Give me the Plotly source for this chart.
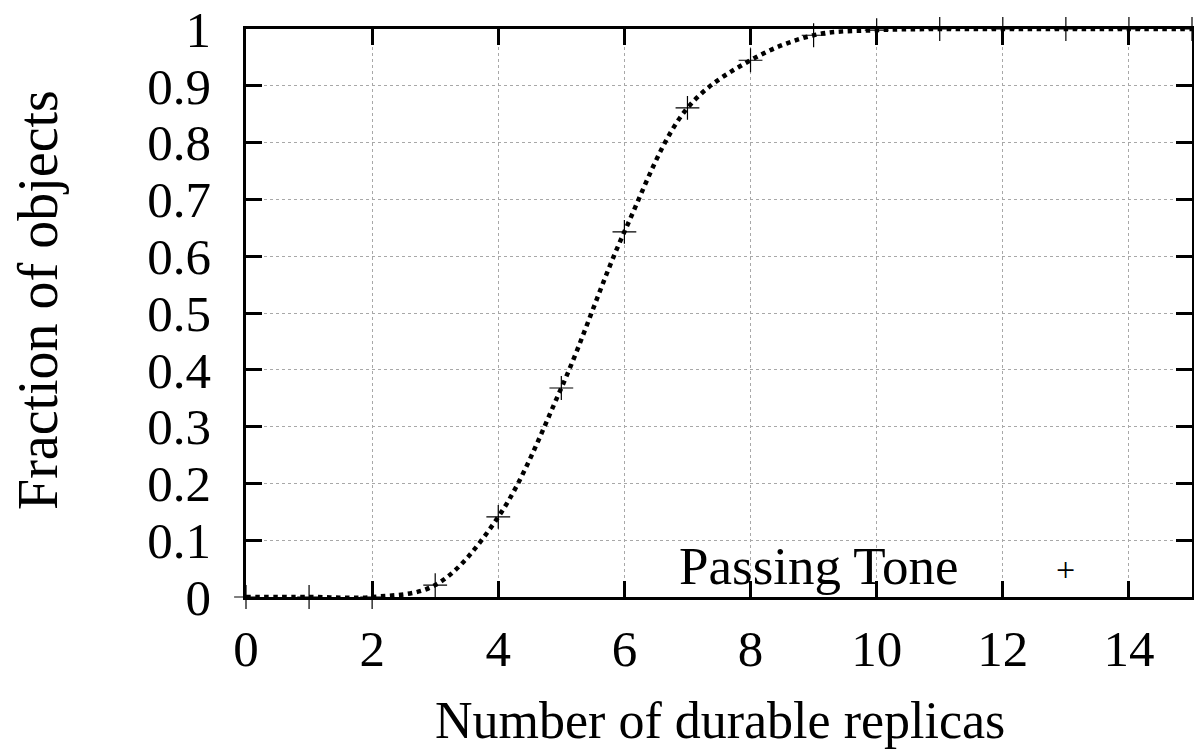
import plotly.graph_objects as go

replicas = [0, 1, 2, 3, 4, 5, 6, 7, 8, 9, 10, 11, 12, 13, 14, 15]
fraction = [0, 0, 0, 0.021, 0.141, 0.368, 0.643, 0.861, 0.945, 0.989, 0.998, 1, 1, 1, 1, 1]
x_ticks = [0, 2, 4, 6, 8, 10, 12, 14]
y_ticks = [0, 0.1, 0.2, 0.3, 0.4, 0.5, 0.6, 0.7, 0.8, 0.9, 1]
y_tick_text = ["0", "0.1", "0.2", "0.3", "0.4", "0.5", "0.6", "0.7", "0.8", "0.9", "1"]
series_name = "Passing Tone"
x_title = "Number of durable replicas"
y_title = "Fraction of objects"

FONT = "Liberation Serif"
OFF = 8  # page body margin
L, T, W, H = 246 - OFF, 29 - OFF, 946, 568


def px(xp):
    return (xp - OFF - L) / W


def py(yp):
    return (T + H - (yp - OFF)) / H


fig = go.Figure()
fig.add_trace(go.Scatter(
    x=replicas, y=fraction, mode="lines",
    line=dict(color="black", width=4.5, dash="dot", shape="spline"),
    showlegend=False, cliponaxis=False, hoverinfo="skip"))
fig.add_trace(go.Scatter(
    x=replicas, y=fraction, mode="markers",
    marker=dict(symbol="cross-thin", size=17, line=dict(color="black", width=1.2)),
    name=series_name, showlegend=False, cliponaxis=False))

axis_common = dict(
    showline=True, linecolor="black", linewidth=2.5, mirror="ticks",
    ticks="inside", ticklen=16, tickwidth=2.5, tickcolor="black",
    showgrid=True, gridcolor="#a8a8a8", gridwidth=1, griddash="dot",
    zeroline=False, automargin=False, ticklabeloverflow="allow",
    tickfont=dict(family=FONT, size=51, color="black"),
)

fig.update_xaxes(range=[0, 15], tickvals=x_ticks, ticklabelstandoff=5, **axis_common)
fig.update_yaxes(range=[0, 1], tickvals=y_ticks, ticktext=y_tick_text,
                 ticklabelstandoff=22, **axis_common)

# Axis titles
fig.add_annotation(xref="paper", yref="paper", x=px(720), y=py(720), text=x_title,
                   showarrow=False, xanchor="center", yanchor="middle",
                   font=dict(family=FONT, size=52, color="black"))
fig.add_annotation(xref="paper", yref="paper", x=px(38), y=py(300), text=y_title,
                   showarrow=False, xanchor="center", yanchor="middle", textangle=-90,
                   font=dict(family=FONT, size=56, color="black"))

# Legend (gnuplot style: text then sample) on an opaque box
fig.add_shape(type="rect", xref="paper", yref="paper",
              x0=px(590), x1=px(1165), y0=0, y1=py(537),
              fillcolor="white", line=dict(width=0), layer="between")
fig.add_annotation(xref="paper", yref="paper", x=px(960), y=py(566),
                   text=series_name, showarrow=False, xanchor="right", yanchor="middle",
                   font=dict(family=FONT, size=53, color="black"))
fig.add_annotation(xref="paper", yref="paper", x=px(1065), y=py(569),
                   text="+", showarrow=False, xanchor="center", yanchor="middle",
                   font=dict(family=FONT, size=34, color="black"))

fig.update_layout(
    width=1202, height=755,
    margin=dict(l=L, r=1202 - L - W, t=T, b=755 - T - H, autoexpand=False),
    paper_bgcolor="white", plot_bgcolor="white",
    font=dict(family=FONT, color="black"),
)

fig.write_html("out.html")
